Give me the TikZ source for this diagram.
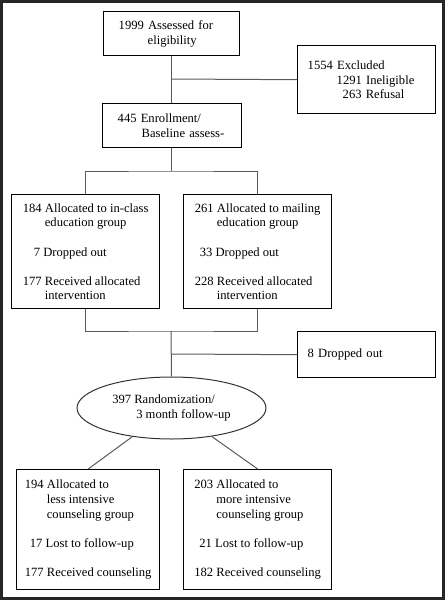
\documentclass[tikz,border=0pt]{standalone}
\usepackage{fontspec}
\setmainfont{Liberation Serif}
\usepackage{tikz}
\usetikzlibrary{shapes.geometric, positioning, calc}

\tikzset{
  box/.style={draw=black, line width=1.4pt, rectangle, anchor=north west,
              align=left, inner xsep=0pt, inner ysep=0pt},
  link/.style={draw=black!65, line width=1pt},
  txt/.style={font=\fontsize{12.6}{14.6}\selectfont}
}

\begin{document}
\begin{tikzpicture}[x=1pt, y=-1pt, txt]

\useasboundingbox (0,0) rectangle (445,600);
\draw[line width=3pt, black!85] (1.5,1.5) rectangle (443.5,598.5);

% enrollment part
\node[box, minimum width=136pt, minimum height=44pt, text width=106pt] (assess) at (103,11)
  {1999 Assessed for\\ \hspace*{29pt}eligibility};
\node[box, minimum width=138pt, minimum height=68pt, text width=118pt] (excl) at (297,45)
  {1554 Excluded\\ \hspace*{29pt}1291 Ineligible\\ \hspace*{35pt}263 Refusal};
\node[box, minimum width=139pt, minimum height=44pt, text width=109pt] (enrol) at (102,103)
  {445 Enrollment/\\ \hspace*{24pt}Baseline assess-};

% education groups
\node[box, minimum width=148pt, minimum height=114pt] (inclass) at (11,194)
  {184 Allocated to in-class\\ \hspace*{22pt}education group\\[14.6pt]
   \hspace*{11pt}7 Dropped out\\[14.6pt]
   177 Received allocated\\ \hspace*{22pt}intervention};
\node[box, minimum width=148pt, minimum height=114pt] (mailing) at (183,194)
  {261 Allocated to mailing\\ \hspace*{22pt}education group\\[14.6pt]
   \hspace*{5pt}33 Dropped out\\[14.6pt]
   228 Received allocated\\ \hspace*{22pt}intervention};

\node[box, minimum width=138pt, minimum height=46pt, text width=118pt] (drop) at (297,331)
  {8 Dropped out};

% randomization
\node[draw=black!80, line width=1pt, ellipse, minimum width=189pt, minimum height=62pt,
      align=left, inner sep=0pt] (rand) at (171.5,408)
  {397 Randomization/\\ \hspace*{24pt}3 month follow-up};

\node[box, minimum width=143pt, minimum height=120pt] (less) at (16,469)
  {194 Allocated to\\ \hspace*{22pt}less intensive\\ \hspace*{22pt}counseling group\\[14.6pt]
   \hspace*{5pt}17 Lost to follow-up\\[14.6pt]
   177 Received counseling};
\node[box, minimum width=148pt, minimum height=120pt] (more) at (183,469)
  {203 Allocated to\\ \hspace*{22pt}more intensive\\ \hspace*{22pt}counseling group\\[14.6pt]
   \hspace*{5pt}21 Lost to follow-up\\[14.6pt]
   182 Received counseling};

% connectors
\coordinate (j1) at (171,79);
\coordinate (split) at (171,171);
\coordinate (merge) at (171,331);
\coordinate (j2) at (171,354);

\draw[link] (assess.south -| j1) -- (enrol.north -| j1);
\draw[link] (j1) -- (excl.west);
\draw[link] (enrol.south -| split) -- (split);
\draw[link] (inclass.north) |- (split) -| (mailing.north);
\draw[link] (inclass.south) |- (merge) -| (mailing.south);
\draw[link] (merge) -- (rand.north);
\draw[link] (j2) -- (drop.west);
\draw[link] (rand) -- (less.north);
\draw[link] (rand) -- (more.north);

\end{tikzpicture}
\end{document}
